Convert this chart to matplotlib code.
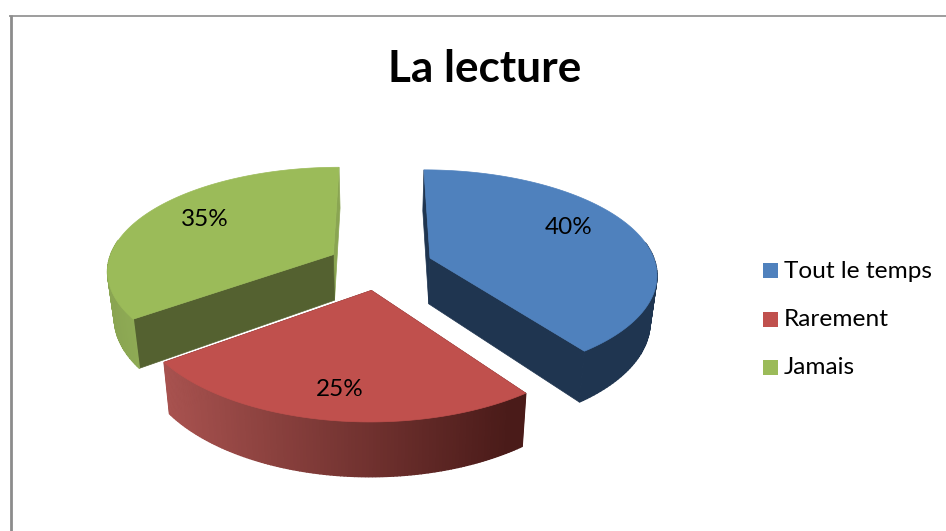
import numpy as np
import matplotlib
matplotlib.use("Agg")
import matplotlib.pyplot as plt
from matplotlib.colors import to_rgb

title = "La lecture"
categories = ["Tout le temps", "Rarement", "Jamais"]
values = [40, 25, 35]
labels = ["40%", "25%", "35%"]

colors = ["#4f81bd", "#c0504d", "#9bbb59"]
inner_colors = ["#1f3550", "#5a1f1d", "#546130"]

# layout of the fake 3d pie, in pixels
cx, cy = 380, 265.5
rx, ry = 226, 103.5
persp_x, persp_y = 0.14, 0.15
explode = 0.235
label_pos = [(569, 228), (340, 390), (205, 219)]


def project(wx, wy):
    # flat disk coords to screen, far side comes out smaller
    return cx + rx * wx / (1 + persp_x * wy), cy - ry * wy / (1 + persp_y * wy)


def drop(x, y):
    # bottom face of the slice
    return cx + (x - cx) * 0.975, y + 47 + 0.055 * (y - 280)


def lerp(c1, c2, t):
    c1 = np.array(to_rgb(c1))
    c2 = np.array(to_rgb(c2))
    return tuple(c1 + (c2 - c1) * t)


def wall_color(i, x):
    if i == 1:
        t = np.clip((x - 165) / 345, 0, 1)
        return lerp("#a8524f", "#4a1b19", t)
    if i == 2:
        return lerp("#8aa552", "#8fab55", np.clip((x - 108) / 30, 0, 1))
    return inner_colors[0]


fig = plt.figure(figsize=(9.46, 5.31), dpi=100)
ax = fig.add_axes([0, 0, 1, 1])
ax.set_xlim(0, 946)
ax.set_ylim(531, 0)
ax.axis("off")

# chart frame
ax.plot([10.5, 10.5], [531, 15], color="#8c8c8c", lw=2.0, solid_capstyle="butt")
ax.plot([9, 946], [16, 16], color="#8c8c8c", lw=1.2, solid_capstyle="butt")

total = sum(values)
for i in [0, 2, 1]:
    a0 = 2 * np.pi * sum(values[:i]) / total
    a1 = a0 + 2 * np.pi * values[i] / total
    mid = (a0 + a1) / 2
    ex = explode * np.sin(mid)
    ey = explode * np.cos(mid)
    ox, oy = project(ex, ey)

    th = np.linspace(a0, a1, 120)
    top_x, top_y = project(ex + np.sin(th), ey + np.cos(th))
    bx, by = drop(top_x, top_y)
    ox2, oy2 = drop(ox, oy)

    # side walls of the cut
    if i == 2:
        ax.fill([ox, top_x[-1], bx[-1], ox2], [oy, top_y[-1], by[-1], oy2], color="#8aa552", lw=0.5)
    ax.fill([ox, top_x[0], bx[0], ox2], [oy, top_y[0], by[0], oy2], color=inner_colors[i], lw=0.5)
    if i != 2:
        ax.fill([ox, top_x[-1], bx[-1], ox2], [oy, top_y[-1], by[-1], oy2], color=inner_colors[i], lw=0.5)

    # outer wall, cut into strips for the shading
    for k in range(len(th) - 1):
        if np.cos((th[k] + th[k + 1]) / 2) > 0.15:
            continue
        ax.fill([top_x[k], top_x[k + 1], bx[k + 1], bx[k]],
                [top_y[k], top_y[k + 1], by[k + 1], by[k]],
                color=wall_color(i, top_x[k]), lw=1.0)

    # top face
    ax.fill(np.r_[ox, top_x], np.r_[oy, top_y], color=colors[i], lw=0.5, zorder=3)

for lab, (x, y) in zip(labels, label_pos):
    ax.text(x, y, lab, family="Lato", fontsize=17.5, color="black",
            ha="center", va="center", zorder=4)

ax.text(485, 69, title, family="Lato", fontsize=31.8, fontweight="bold",
        color="black", ha="center", va="center")

# legend
for i, name in enumerate(categories):
    y = 270.5 + i * 48.5
    ax.fill([763, 778, 778, 763], [y - 7.5, y - 7.5, y + 7.5, y + 7.5], color=colors[i], lw=0)
    ax.text(784, y + 1.5 - i * 0.5, name, family="Lato", fontsize=17.6, color="black", ha="left", va="center")

fig.savefig("out.png", dpi=100)
